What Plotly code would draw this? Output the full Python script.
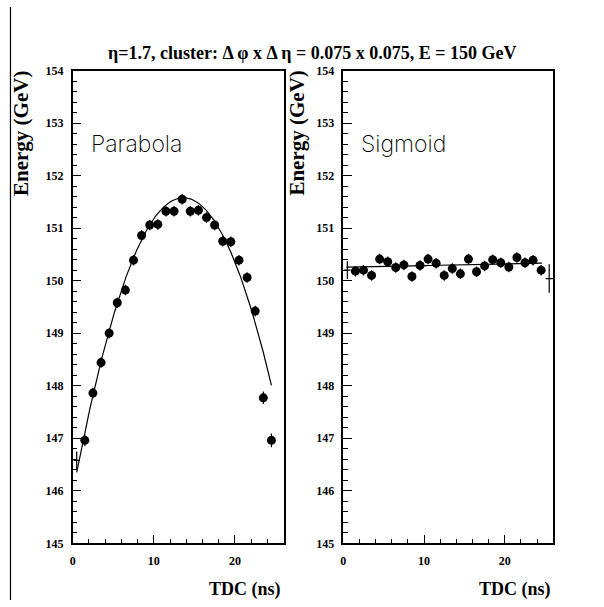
import numpy as np
import plotly.graph_objects as go

# ---- data ----
tdc = [1.5, 2.5, 3.5, 4.5, 5.5, 6.5, 7.5, 8.5, 9.5, 10.5, 11.5, 12.5,
       13.5, 14.5, 15.5, 16.5, 17.5, 18.5, 19.5, 20.5, 21.5, 22.5, 23.5, 24.5]
energy_parabola = [146.96, 147.86, 148.44, 149.00, 149.58, 149.82, 150.39, 150.86,
                   151.06, 151.07, 151.32, 151.32, 151.55, 151.32, 151.34, 151.20,
                   151.06, 150.75, 150.74, 150.39, 150.06, 149.42, 147.77, 146.96]
err_parabola = [0.11, 0.10, 0.10, 0.10, 0.10, 0.10, 0.10, 0.10, 0.10, 0.10, 0.10, 0.10,
                0.10, 0.10, 0.10, 0.10, 0.10, 0.10, 0.10, 0.10, 0.10, 0.10, 0.12, 0.13]
energy_sigmoid = [150.18, 150.20, 150.10, 150.41, 150.36, 150.25, 150.30, 150.08,
                  150.29, 150.41, 150.33, 150.10, 150.23, 150.13, 150.41, 150.17,
                  150.28, 150.40, 150.34, 150.26, 150.44, 150.34, 150.39, 150.20]
err_sigmoid = [0.10] * 24

# edge bins drawn without marker (value, x-halfwidth, y-error)
edge_left_x = [0.5]
edge_left_y = [146.58]
edge_left_ex = [0.4]
edge_left_ey = [0.17]
edge_right_x = [0.5, 25.5]
edge_right_y = [150.20, 150.04]
edge_right_ex = [0.4, 0.45]
edge_right_ey = [0.17, 0.27]

# fit results
parabola_vertex_x = 13.64
parabola_vertex_y = 151.58
parabola_curv = -0.0303
parabola_range = [0.5, 24.5]
sigmoid_base = 150.25
sigmoid_step = 0.09
sigmoid_mid = 12.0
sigmoid_width = 5.0
sigmoid_range = [0.4, 24.6]

title_text = "η=1.7, cluster: Δ φ x Δ η = 0.075 x 0.075, E = 150 GeV"
y_ticks = [145, 146, 147, 148, 149, 150, 151, 152, 153, 154]
x_ticks = [0, 10, 20]

W, H = 604, 607
SERIF = "Liberation Serif"

fig = go.Figure()

xp = np.linspace(parabola_range[0], parabola_range[1], 200)
yp = parabola_curv * (xp - parabola_vertex_x) ** 2 + parabola_vertex_y
xs = np.linspace(sigmoid_range[0], sigmoid_range[1], 200)
ys = sigmoid_base + sigmoid_step / (1 + np.exp(-(xs - sigmoid_mid) / sigmoid_width))

line = dict(color="black", width=1.2)
for xa, ya, x, y, e, ex, ey, ee, ex_ex, cx, cy in [
    ("x", "y", tdc, energy_parabola, err_parabola, edge_left_x, edge_left_y, edge_left_ey, edge_left_ex, xp, yp),
    ("x2", "y2", tdc, energy_sigmoid, err_sigmoid, edge_right_x, edge_right_y, edge_right_ey, edge_right_ex, xs, ys),
]:
    fig.add_trace(go.Scatter(x=cx, y=cy, mode="lines", line=line, xaxis=xa, yaxis=ya,
                             showlegend=False, hoverinfo="skip"))
    fig.add_trace(go.Scatter(x=ex, y=ey, mode="markers", marker=dict(size=0.1, color="black"),
                             error_y=dict(type="data", array=ee, width=0, thickness=1.2, color="black"),
                             error_x=dict(type="data", array=ex_ex, width=0, thickness=1.2, color="black"),
                             xaxis=xa, yaxis=ya, showlegend=False))
    fig.add_trace(go.Scatter(x=x, y=y, mode="markers", marker=dict(size=9, color="black", symbol="circle"),
                             error_y=dict(type="data", array=e, width=0, thickness=1.2, color="black"),
                             xaxis=xa, yaxis=ya, showlegend=False))

ydom = [1 - 549 / H, 1 - 65 / H]
xd1 = [70 / W, 282 / W]
xd2 = [342 / W, 553 / W]

xaxis_common = dict(range=[0, 26], tickvals=x_ticks, ticks="inside", ticklen=9, tickwidth=1.2,
                    tickcolor="black", showline=True, mirror=True, linecolor="black", linewidth=1.5,
                    showgrid=False, zeroline=False, ticklabelstandoff=6,
                    tickfont=dict(family=SERIF, size=12, color="black", weight="bold"),
                    minor=dict(dtick=2, ticks="inside", ticklen=5, tickwidth=1.2, tickcolor="black", showgrid=False))
yaxis_common = dict(range=[145, 154], tickvals=y_ticks, ticks="inside", ticklen=9, tickwidth=1.2,
                    tickcolor="black", showline=True, mirror=True, linecolor="black", linewidth=1.5,
                    showgrid=False, zeroline=False, ticklabelstandoff=5,
                    tickfont=dict(family=SERIF, size=12, color="black", weight="bold"),
                    minor=dict(dtick=0.2, ticks="inside", ticklen=5, tickwidth=1.2, tickcolor="black", showgrid=False))

fig.update_layout(
    width=W, height=H, margin=dict(l=0, r=0, t=0, b=0),
    paper_bgcolor="white", plot_bgcolor="white",
    xaxis=dict(domain=xd1, anchor="y", **xaxis_common),
    yaxis=dict(domain=ydom, anchor="x", **yaxis_common),
    xaxis2=dict(domain=xd2, anchor="y2", **xaxis_common),
    yaxis2=dict(domain=ydom, anchor="x2", **yaxis_common),
)

# canvas border line at the left edge
fig.add_shape(type="line", xref="paper", yref="paper", x0=7.5 / W, x1=7.5 / W, y0=0, y1=1,
              line=dict(color="black", width=1.2))

ann = []
ann.append(dict(text=title_text, x=311 / W, y=1 - 47 / H, xref="paper", yref="paper",
                showarrow=False, xanchor="center", yanchor="middle",
                font=dict(family=SERIF, size=18, color="black", weight="bold")))
for xc in [18, 296]:
    ann.append(dict(text="Energy (GeV)", x=xc / W, y=1 - 63 / H, xref="paper", yref="paper",
                    showarrow=False, xanchor="center", yanchor="top", textangle=-90,
                    font=dict(family=SERIF, size=21, color="black", weight="bold")))
for xr in [281, 553]:
    ann.append(dict(text="TDC (ns)", x=xr / W, y=1 - 596 / H, xref="paper", yref="paper",
                    showarrow=False, xanchor="right", yanchor="middle",
                    font=dict(family=SERIF, size=18, color="black", weight="bold")))
for xl, t in [(86, "Parabola"), (358, "Sigmoid")]:
    ann.append(dict(text=t, x=xl / W, y=1 - 140 / H, xref="paper", yref="paper",
                    showarrow=False, xanchor="left", yanchor="middle",
                    font=dict(family="Inter", size=23, color="black", weight=200)))
fig.update_layout(annotations=ann)

fig.write_html("out.html")
